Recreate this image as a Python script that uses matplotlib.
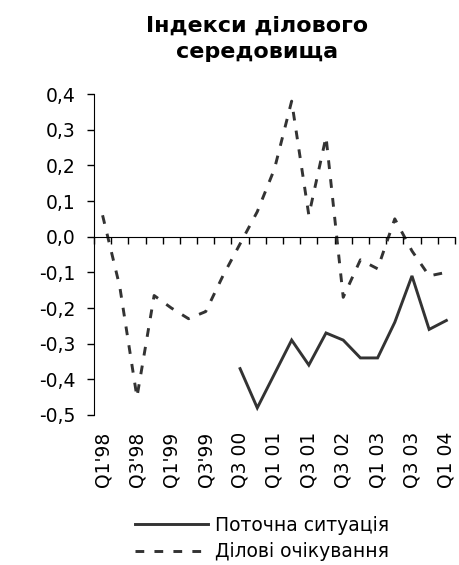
"""Business environment indices (quarterly), recreated with matplotlib."""

import matplotlib

matplotlib.use("Agg")

import matplotlib.pyplot as plt
import numpy as np
from matplotlib.ticker import FuncFormatter

plt.rcParams["font.family"] = ["DejaVu Sans"]

categories = [
    "Q1'98", "Q2'98", "Q3'98", "Q4'98", "Q1'99", "Q2'99", "Q3'99", "Q1 00",
    "Q3 00", "Q4 00", "Q1 01", "Q2 01", "Q3 01", "Q1 02", "Q3 02", "Q4 02",
    "Q1 03", "Q2 03", "Q3 03", "Q4 03", "Q1 04",
]
current_situation = [
    np.nan, np.nan, np.nan, np.nan, np.nan, np.nan, np.nan, np.nan,
    -0.37, -0.48, -0.385, -0.29, -0.36, -0.27, -0.29, -0.34,
    -0.34, -0.24, -0.11, -0.26, -0.235,
]
business_expectations = [
    0.06, -0.14, -0.45, -0.165, -0.20, -0.23, -0.21, -0.11,
    -0.02, 0.07, 0.19, 0.38, 0.06, 0.28, -0.17, -0.065,
    -0.09, 0.05, -0.04, -0.11, -0.10,
]
series_labels = ["Поточна ситуація", "Ділові очікування"]
title = "Індекси ділового\nсередовища"

line_color = "#333333"
tick_size = 13.5

fig = plt.figure(figsize=(4.6, 5.65), dpi=100)
ax = fig.add_axes([0.2043, 0.2655, 0.7847, 0.5681])

x = np.arange(len(categories))
(solid,) = ax.plot(x, current_situation, color=line_color, lw=2.1,
                   solid_joinstyle="miter", label=series_labels[0])
(dashed,) = ax.plot(x, business_expectations, color=line_color, lw=2.1,
                    linestyle=(0, (3.0, 3.5)), label=series_labels[1])

ax.set_xlim(-0.5, len(categories) - 0.5)
ax.set_ylim(-0.5, 0.4)
ax.set_yticks(np.round(np.arange(-0.5, 0.41, 0.1), 1))
ax.yaxis.set_major_formatter(
    FuncFormatter(lambda v, _: f"{v:.1f}".replace(".", ",").replace("-0,0", "0,0"))
)
ax.tick_params(axis="y", length=5, width=1, pad=8, labelsize=tick_size)

# category axis crosses at zero, ticks on category boundaries
for side in ("top", "right"):
    ax.spines[side].set_visible(False)
ax.spines["bottom"].set_position(("data", 0))
ax.set_xticks(np.arange(-0.5, len(categories), 1.0))
ax.tick_params(axis="x", length=5, width=1, labelbottom=False)

# category labels sit below the plot area
sec = ax.secondary_xaxis("bottom")
sec.spines["bottom"].set_visible(False)
sec.set_xticks(x[::2], [categories[i] for i in x[::2]])
sec.tick_params(length=0, pad=12, labelsize=tick_size, labelrotation=90)

fig.text(0.559, 0.972, title, ha="center", va="top", fontsize=16,
         fontweight="bold", linespacing=1.4)

fig.legend(handles=[solid, dashed], loc="upper left",
           bbox_to_anchor=(0.2935, 0.087), frameon=False, fontsize=tick_size,
           handlelength=3.9, handletextpad=0.37, labelspacing=0.4,
           borderaxespad=0, borderpad=0)

fig.savefig("out.png", dpi=100)
